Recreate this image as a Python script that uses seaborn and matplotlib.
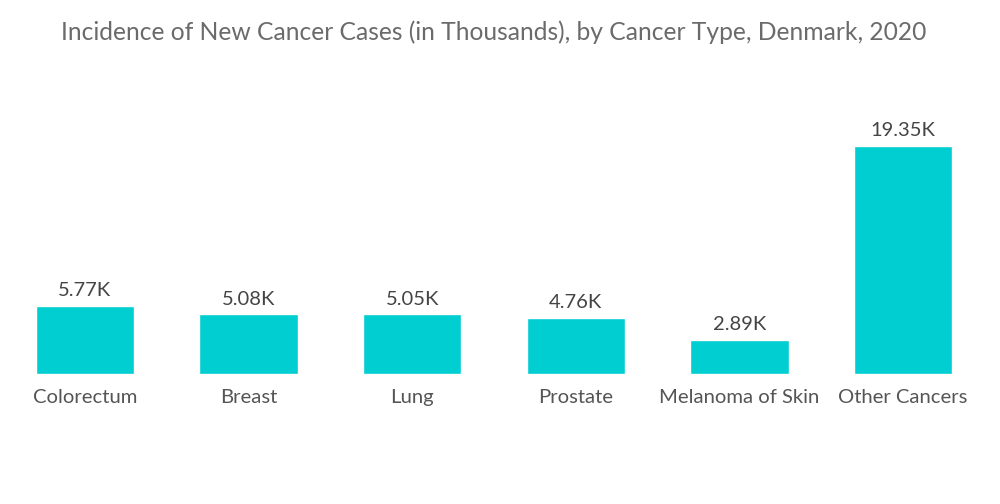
import pandas as pd
import seaborn as sns
import matplotlib.pyplot as plt

# chart data
cancer_types = ["Colorectum", "Breast", "Lung", "Prostate", "Melanoma of Skin", "Other Cancers"]
cases_k = [5.77, 5.08, 5.05, 4.76, 2.89, 19.35]
value_labels = ["5.77K", "5.08K", "5.05K", "4.76K", "2.89K", "19.35K"]

df = pd.DataFrame({"type": cancer_types, "cases": cases_k})

sns.set_style("white")
plt.rcParams["font.family"] = ["Lato", "DejaVu Sans"]

fig = plt.figure(figsize=(10, 5.04), dpi=100)
ax = fig.add_axes([0.003, 0.258, 0.982, 0.51])

sns.barplot(data=df, x="type", y="cases", color="#00CED1", saturation=1,
            width=0.6, ax=ax)

for i, lab in enumerate(value_labels):
    ax.text(i, cases_k[i] + 0.55, lab, ha="center", va="bottom",
            fontsize=14.5, color="#444444")

ax.set_xlim(-0.5, 5.5)
ax.set_ylim(0, 21.8)
ax.set_xlabel("")
ax.set_ylabel("")
ax.set_yticks([])
ax.tick_params(axis="x", length=0, pad=11, labelsize=14.6, labelcolor="#555555")
sns.despine(ax=ax, left=True, bottom=True)

fig.suptitle("Incidence of New Cancer Cases (in Thousands), by Cancer Type, Denmark, 2020",
             x=0.494, y=0.96, fontsize=17.7, color="#6b6b6b")

fig.savefig("out.png", dpi=100, facecolor="white")
